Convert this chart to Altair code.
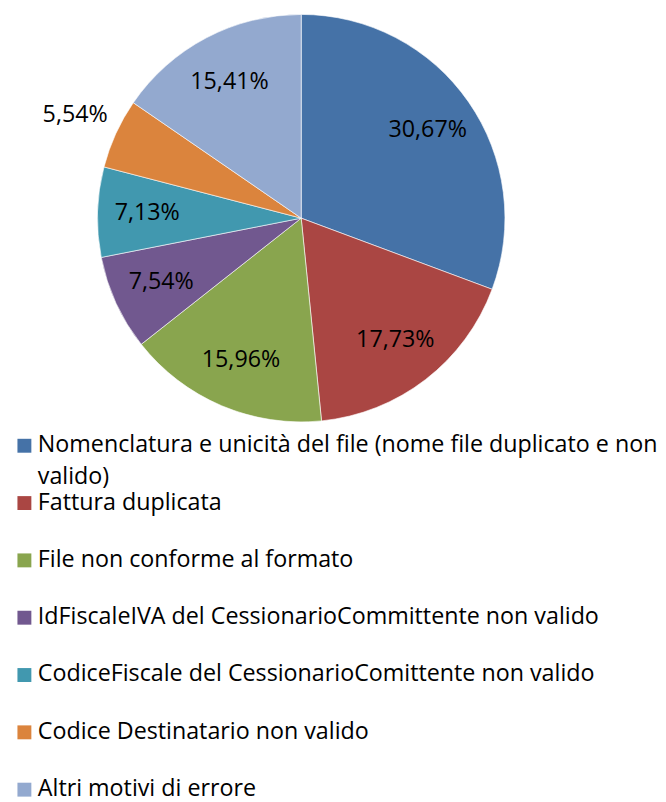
import altair as alt
import pandas as pd

categories = [
    "Nomenclatura e unicità del file (nome file duplicato e non\nvalido)",
    "Fattura duplicata",
    "File non conforme al formato",
    "IdFiscaleIVA del CessionarioCommittente non valido",
    "CodiceFiscale del CessionarioComittente non valido",
    "Codice Destinatario non valido",
    "Altri motivi di errore",
]
values = [30.67, 17.73, 15.96, 7.54, 7.13, 5.54, 15.41]
labels = ["30,67%", "17,73%", "15,96%", "7,54%", "7,13%", "5,54%", "15,41%"]
colors = ["#4572A7", "#AA4643", "#89A54E", "#71588F", "#4198AF", "#DB843D", "#93A9CF"]

df = pd.DataFrame({
    "cat": categories,
    "value": values,
    "label": labels,
    "idx": list(range(len(values))),
})

FONT = "Open Sans"
FS = 23.4

color = alt.Color("cat:N", scale=alt.Scale(domain=categories, range=colors), legend=None)

arcs = alt.Chart(df).mark_arc(radius=205, stroke="white", strokeWidth=0.6).encode(
    theta=alt.Theta("value:Q", stack=True),
    order=alt.Order("idx:Q"),
    color=color,
)
texts = alt.Chart(df).transform_window(
    cum="sum(value)", sort=[alt.SortField("idx")]
).transform_calculate(
    mid="datum.cum - datum.value / 2",
    r="datum.value < 6 ? 250 : 155",
).mark_text(font=FONT, fontSize=FS, color="black").encode(
    theta=alt.Theta("mid:Q", stack=False),
    radius=alt.Radius("r:Q", scale=None, stack=False),
    text="label:N",
)
pie = (arcs + texts).properties(width=590, height=418)

leg_y = alt.Y("idx:Q", scale=alt.Scale(domain=[-0.3468, 6.173], zero=False, nice=False, reverse=True), axis=None)
squares = alt.Chart(df).mark_square(size=196, opacity=1).encode(
    x=alt.value(16.5), y=leg_y, color=color
)
leg_text = alt.Chart(df).mark_text(
    font=FONT, fontSize=FS, align="left", baseline="top", dy=-11.5, lineBreak="\n",
    lineHeight=32, color="black"
).encode(x=alt.value(30), y=leg_y, text="cat:N")
legend = (squares + leg_text).properties(width=650, height=376)

chart = alt.vconcat(pie, legend, spacing=0).properties(padding=0).configure_view(stroke=None)

chart.save("out.html", embed_options={"renderer": "svg", "actions": False})
